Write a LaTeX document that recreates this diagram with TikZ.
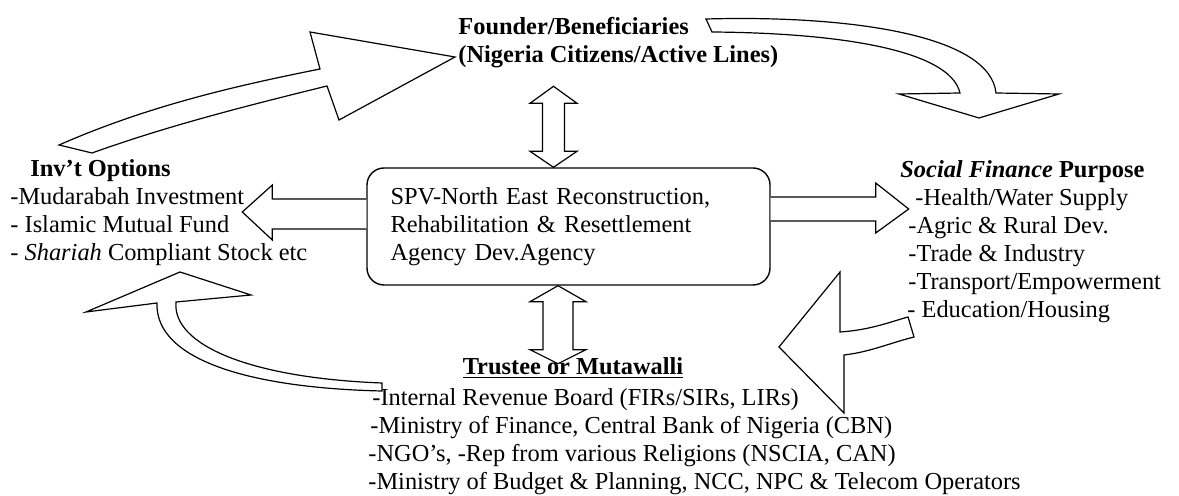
\documentclass[tikz,border=0pt]{standalone}
\usepackage{fontspec}
\setmainfont{Liberation Serif}
\usetikzlibrary{calc}

\begin{document}
\begin{tikzpicture}[x=0.5pt,y=-0.5pt,
    every node/.style={font=\fontsize{12.2}{14}\selectfont, inner sep=0pt},
    txt/.style={align=left, anchor=west},
    blockarrow/.style={draw, line width=0.6pt, line join=miter, fill=white}]

  \useasboundingbox (0,0) rectangle (1179,496);

  % the agency in the middle
  \node[draw, rounded corners=8.5pt, line width=0.7pt, minimum width=201.5pt, minimum height=58.5pt,
        text width=178pt, inner xsep=11.5pt, align=left] (spv) at (568.5,226.5)
        {SPV-North East Reconstruction,\\Rehabilitation \& Resettlement\\Agency Dev.Agency};

  \node[txt, font=\fontsize{12.2}{14}\selectfont\bfseries] (founder) at (458,43)
        {Founder/Beneficiaries\\(Nigeria Citizens/Active Lines)};

  \node[txt] (inv) at (10,213)
        {\hspace*{10pt}\textbf{Inv't Options}\\-Mudarabah Investment\\- Islamic Mutual Fund\\- \textit{Shariah} Compliant Stock etc};

  \node[txt] (purpose) at (900,242)
        {\textbf{\textit{Social Finance} Purpose}\\\hspace*{7.5pt}-Health/Water Supply\\\hspace*{4pt}-Agric \& Rural Dev.\\\hspace*{4pt}-Trade \& Industry\\\hspace*{4pt}-Transport/Empowerment\\\hspace*{3.5pt}- Education/Housing};

  \node[font=\fontsize{12.2}{14}\selectfont\bfseries] (trustee) at (573,368) {\underline{Trustee or Mutawalli}};

  \node[txt] (members) at (368,441.5)
        {\hspace*{2pt}-Internal Revenue Board (FIRs/SIRs, LIRs)\\\hspace*{1pt}-Ministry of Finance, Central Bank of Nigeria (CBN)\\-NGO's, -Rep from various Religions (NSCIA, CAN)\\-Ministry of Budget \& Planning, NCC, NPC \& Telecom Operators};

  % straight block arrows
  \draw[blockarrow] ($(spv.north)+(-15,0)$) -- ++(23.5,-16) -- ++(-12.5,0) -- ++(0,-48) -- ++(12.5,0)
        -- ++(-23.5,-17) -- ++(-23.5,17) -- ++(12.5,0) -- ++(0,48) -- ++(-12.5,0) -- cycle;
  \draw[blockarrow] ($(spv.south)+(-10.5,0)$) -- ++(28,16) -- ++(-13,0) -- ++(0,48) -- ++(13,0)
        -- ++(-28,14) -- ++(-28,-14) -- ++(13,0) -- ++(0,-48) -- ++(-13,0) -- cycle;
  \draw[blockarrow] ($(spv.west)+(0,-27.5)$) -- ++(-94,0) -- ++(0,-14) -- ++(-30,27) -- ++(30,28)
        -- ++(0,-11) -- ++(94,0);
  \draw[blockarrow] ($(spv.east)+(0,-29.5)$) -- ++(105,0) -- ++(0,-14) -- ++(33,26) -- ++(-33,24)
        -- ++(0,-12) -- ++(-105,0);

  % curved block arrows
  \draw[blockarrow] (59,145) .. controls (150,105) and (240,85) .. (320,69) -- (310,32) -- (455,57)
        -- (339,120) -- (327,86) .. controls (250,105) and (170,125) .. (92,153) -- cycle;
  \draw[blockarrow] (706,19) .. controls (850,15) and (990,35) .. (996,93) -- (1059,94) -- (979,118)
        -- (899,94) -- (960,93) .. controls (950,50) and (840,33) .. (712,32) -- cycle;
  \draw[blockarrow] (382,391) .. controls (250,388) and (155,360) .. (157,303) -- (86,312) -- (180,272)
        -- (251,295) -- (176,302) .. controls (172,345) and (250,378) .. (382,383) -- cycle;
  \draw[blockarrow] (908,317) .. controls (890,322) and (870,330) .. (840,332) -- (840,272) -- (779,347)
        -- (844,413) -- (844,355) .. controls (870,352) and (890,343) .. (914,337) -- cycle;
\end{tikzpicture}
\end{document}
